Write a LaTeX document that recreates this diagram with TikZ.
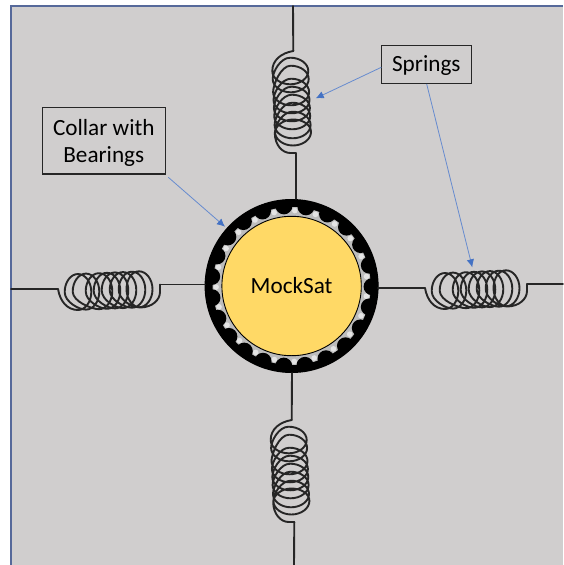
\documentclass[tikz,border=0pt]{standalone}
\usepackage{fontspec}
\setmainfont{Carlito}
\usetikzlibrary{arrows.meta}
\definecolor{panel}{HTML}{D0CECE}
\definecolor{edgeblue}{HTML}{56699A}
\definecolor{arrowblue}{HTML}{4472C4}
\definecolor{sat}{HTML}{FFD966}
\definecolor{wirec}{HTML}{262626}
\definecolor{gapc}{HTML}{BDBDBD}
\definecolor{gaplight}{HTML}{E4E4E4}
\tikzset{
  wire/.style={draw=wirec,line width=1.9pt,line cap=round,line join=round},
  label box/.style={draw=wirec,line width=1.2pt,align=center,font=\fontsize{23.2}{27.3}\selectfont,inner sep=0pt,text=black},
  callout/.style={draw=arrowblue!82!white,line width=.8pt,-{Latex[length=8pt,width=7.5pt,color=arrowblue,fill=arrowblue]}},
}
\def\sa{13.3}\def\sb{18}\def\sk{.55}
% one spring in local coordinates: axis along u, wire enters at (0,0), leaves at (102,endv)
\newcommand{\springpath}[4]{%
  \begin{scope}[shift={(#1)},rotate=#2]
    \coordinate (#3a) at (0,0);
    \draw[wire] (0,0) .. controls (2,12) and (9,21) .. (20,21)
      \foreach \pu/\pv/\qu/\qv in {20/3/28/2.6,28/2.6/41/2.2,41/2.2/49/1.8,49/1.8/57/1.4,57/1.4/65/1.1,65/1.1/74/.7,74/.7/81/.3}{
        .. controls ({\pu+\sk*\sa},{\pv+\sb}) and ({\pu+\sa},{\pv+\sk*\sb}) .. ({\pu+\sa},\pv)
        .. controls ({\pu+\sa},{\pv-\sk*\sb}) and ({\pu+\sk*\sa},{\pv-\sb}) .. (\pu,{\pv-\sb})
        .. controls ({\pu-\sk*\sa},{\pv-\sb}) and ({\pu-\sa},{\pv-\sk*\sb}) .. ({\pu-\sa},\pv)
        .. controls ({\pu-\sa},{\pv+\sk*\sb}) and ({\qu-\sk*\sa},{\qv+\sb}) .. (\qu,{\qv+\sb})
      }
      .. controls ({81+\sk*\sa},{.3+\sb}) and (94.5,{.3+\sk*\sb}) .. (94.5,.3)
      .. controls (94.5,{.3-\sk*\sb}) and ({81+\sk*\sa},{.3-\sb}) .. (81,{.3-\sb})
      .. controls ({81-\sk*\sa},{.3-\sb}) and (68.5,{.3-\sk*\sb}) .. (68.5,.3)
      .. controls (68.5,{.3+\sk*\sb}) and (75,{.3+\sb}) .. (82,18.5)
      .. controls (94,18.5) and (102,11) .. (102,3)
      -- (102,#4) coordinate (#3b);
  \end{scope}}
\begin{document}
\begin{tikzpicture}[x=1pt,y=-1pt]
\useasboundingbox (0,0) rectangle (563,565);
\fill[panel] (11,6) rectangle (563,565);
\draw[edgeblue,line width=1.6pt] (11,565) -- (11,6) -- (563,6);

% springs
\springpath{293.3,51}{-90}{t}{-2.4}
\springpath{291.7,420}{-90}{b}{-2.6}
\springpath{58,289}{0}{l}{-4.5}
\springpath{425,288}{0}{r}{-4}

% hub
\coordinate (hubc) at (291.6,286);
\fill[black] (hubc) circle[radius=87];
\begin{scope}
\clip (hubc) circle[radius=86.5];
\fill[gapc] (hubc) circle[radius=79];
\foreach \ang [remember=\ang as \prev (initially 0.5)] in {15.1,31.4,48,64.7,80.4,95.6,110.8,126,141.2,156.4,171.6,186.8,202,217.6,233.2,248.8,264.5,280.3,296.5,313,329,345,360.5}{
  \fill[gaplight] (hubc) ++({(\ang+\prev)/2}:75.5) circle[radius=2.8];
}
\foreach \ang in {0.5,15.1,31.4,48,64.7,80.4,95.6,110.8,126,141.2,156.4,171.6,186.8,202,217.6,233.2,248.8,264.5,280.3,296.5,313,329,345}{
  \fill[black] (hubc) ++(\ang:80.5) circle[radius=8.5];
}
\end{scope}
\node[circle,draw=black,line width=.9pt,fill=sat,minimum size=139.4pt,inner sep=0pt,font=\fontsize{23.2}{28}\selectfont] (sat) at (hubc) {MockSat};
\coordinate (topedge) at (293,6);
\coordinate (botedge) at (294,565);
\coordinate (leftedge) at (11,289);
\coordinate (rightedge) at (563,284);
\coordinate (hubtop) at (295.7,199);
\coordinate (hubbot) at (292,373);
\coordinate (hubleft) at (205,284.5);
\coordinate (hubright) at (378,288);
\draw[wire] (topedge) -- (ta);
\draw[wire] (tb) -- (hubtop);
\draw[wire] (hubbot) -- (ba);
\draw[wire] (bb) -- (botedge);
\draw[wire] (leftedge) -- (la);
\draw[wire] (lb) -- (hubleft);
\draw[wire] (hubright) -- (ra);
\draw[wire] (rb) -- (rightedge);

% labels
\node[label box,minimum width=123pt,minimum height=66.4pt] (collar) at (103.8,140.8) {\raisebox{-21.5pt}[0pt][0pt]{\begin{tabular}[b]{@{}c@{}}Collar with\\Bearings\end{tabular}}};
\node[label box,minimum width=90pt,minimum height=38pt] (springs) at (426.3,64.7) {\raisebox{-7pt}[0pt][0pt]{Springs}};
\coordinate (collarfrom) at (168.3,177.3);
\coordinate (collartip) at (225,226.7);
\coordinate (springtip1) at (315.7,98.3);
\coordinate (springfrom2) at (426.7,84);
\coordinate (springtip2) at (472.3,267.3);
\coordinate (springfrom1) at (381.3,67.3);
\draw[callout] (collarfrom) -- (collartip);
\draw[callout] (springfrom1) -- (springtip1);
\draw[callout] (springfrom2) -- (springtip2);
\end{tikzpicture}
\end{document}
